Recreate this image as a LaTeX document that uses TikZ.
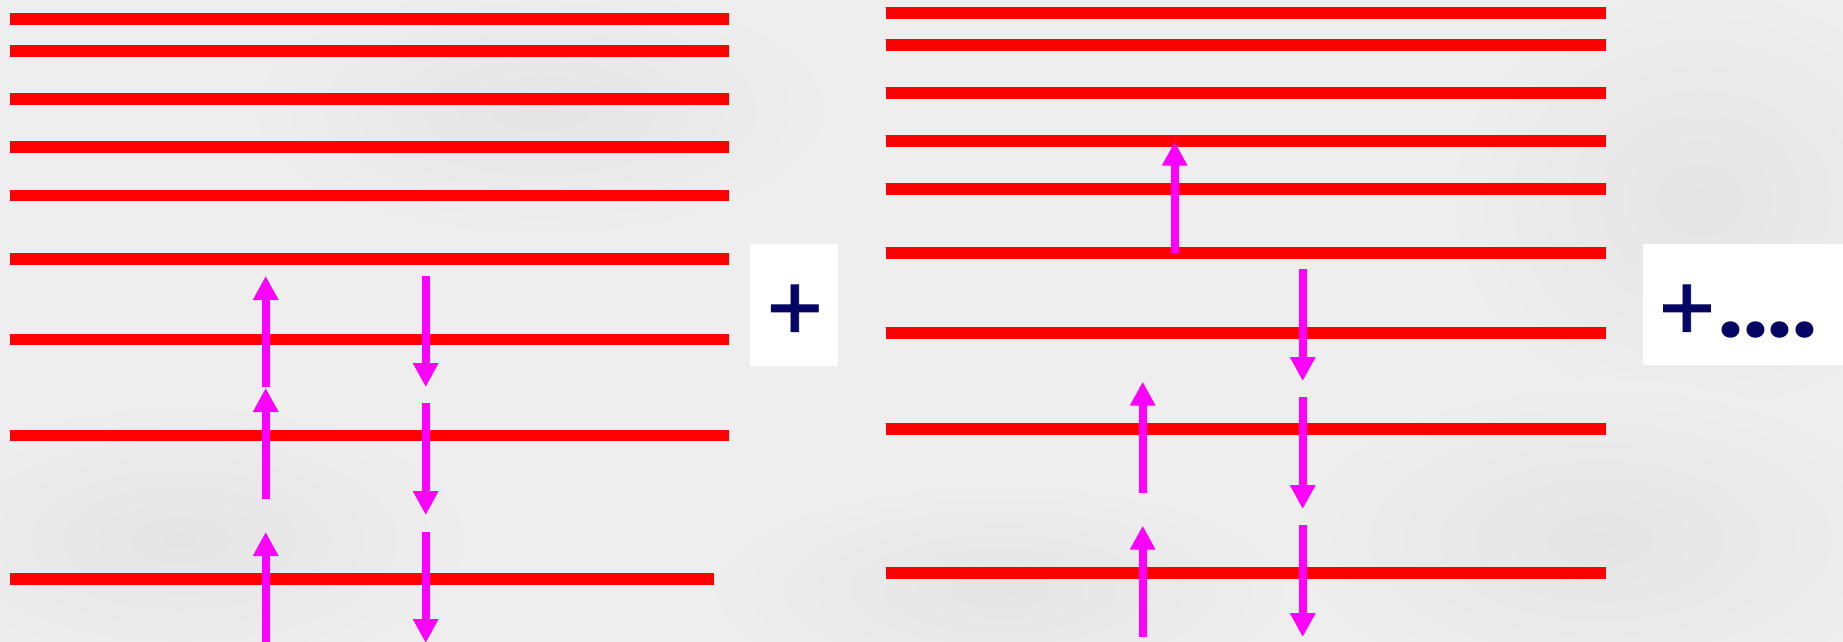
\documentclass[tikz,border=0pt]{standalone}
\usepackage{fontspec}
\newfontfamily\plusfont[FakeBold=0.9]{Poppins}
\newfontfamily\dotfont{Poppins}
\usetikzlibrary{arrows.meta}
\definecolor{bggray}{RGB}{238,238,238}
\definecolor{bgdark}{RGB}{229,229,229}
\definecolor{navyplus}{RGB}{5,5,100}
\newcommand{\plusglyph}{\raisebox{-2.5pt}{\plusfont\fontsize{46pt}{46pt}\selectfont +}}
\newcommand{\dotsglyph}{{\dotfont\bfseries\fontsize{44pt}{44pt}\selectfont ....}}
\tikzset{
  level/.style={draw=red, line width=5.75pt, line cap=butt},
  spin/.style={draw={rgb,255:red,255;green,0;blue,255}, line width=4.2pt,
    -{Triangle[width=12pt,length=12pt]}},
  plusbox/.style={fill=white, draw=none},
  plustext/.style={text=navyplus, inner sep=0pt, anchor=base west},
  cloud/.style={inner color=bgdark, outer color=bggray}
}
\begin{document}
\begin{tikzpicture}[x=0.5pt,y=-0.5pt]
\useasboundingbox (0,0) rectangle (1843,642);
\fill[bggray] (0,0) rectangle (1843,642);
% soft cloudy background
\shade[cloud] (540,110) ellipse [x radius=300, y radius=130];
\shade[cloud] (180,540) ellipse [x radius=300, y radius=140];
\shade[cloud] (1700,200) ellipse [x radius=260, y radius=220];
\shade[cloud] (1600,540) ellipse [x radius=320, y radius=160];
\shade[cloud] (1000,590) ellipse [x radius=300, y radius=110];
% left panel levels
\foreach \yy in {19,51,99,147,195.5,259,339.5,435.5}
  \draw[level] (9.5,\yy) -- (729,\yy);
\draw[level] (9.5,579) -- (713.5,579);
% right panel levels
\foreach \yy in {13.2,45.2,93.2,141.2,189.2,253.2,333,429,573}
  \draw[level] (886,\yy) -- (1606,\yy);
% left arrows
\coordinate (la1s) at (265.7,387); \coordinate (la1e) at (265.7,276);
\coordinate (la2s) at (265.7,499); \coordinate (la2e) at (265.7,388);
\coordinate (la3s) at (265.7,650); \coordinate (la3e) at (265.7,532);
\coordinate (ld1s) at (425.7,275.7); \coordinate (ld1e) at (425.7,387);
\coordinate (ld2s) at (425.7,403); \coordinate (ld2e) at (425.7,515);
\coordinate (ld3s) at (425.7,532); \coordinate (ld3e) at (425.7,643);
\draw[spin] (la1s) -- (la1e);
\draw[spin] (la2s) -- (la2e);
\draw[spin] (la3s) -- (la3e);
\draw[spin] (ld1s) -- (ld1e);
\draw[spin] (ld2s) -- (ld2e);
\draw[spin] (ld3s) -- (ld3e);
% right arrows
\coordinate (ra1s) at (1174.7,253); \coordinate (ra1e) at (1174.7,141.7);
\coordinate (ra2s) at (1142.7,493); \coordinate (ra2e) at (1142.7,381.7);
\coordinate (ra3s) at (1142.7,637); \coordinate (ra3e) at (1142.7,525.7);
\coordinate (rd1s) at (1302.7,269); \coordinate (rd1e) at (1302.7,381);
\coordinate (rd2s) at (1302.7,397); \coordinate (rd2e) at (1302.7,509);
\coordinate (rd3s) at (1302.7,525); \coordinate (rd3e) at (1302.7,637);
\draw[spin] (ra1s) -- (ra1e);
\draw[spin] (ra2s) -- (ra2e);
\draw[spin] (ra3s) -- (ra3e);
\draw[spin] (rd1s) -- (rd1e);
\draw[spin] (rd2s) -- (rd2e);
\draw[spin] (rd3s) -- (rd3e);
% plus boxes
\fill[plusbox] (750,244) rectangle (838,366);
\fill[plusbox] (1643,244) rectangle (1843,365);
\node[plustext] (plusA) at (763,337) {\plusglyph};
\node[plustext] (plusB) at (1655,337) {\plusglyph\dotsglyph};
\end{tikzpicture}
\end{document}
